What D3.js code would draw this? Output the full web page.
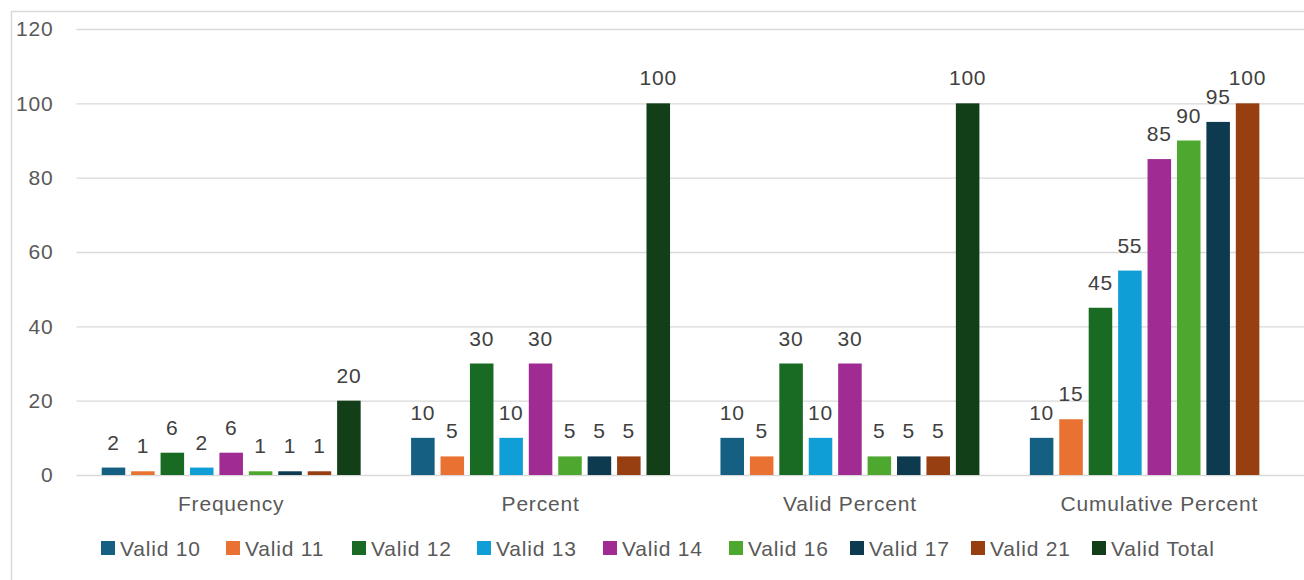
<!DOCTYPE html>
<html>
<head>
<meta charset="utf-8">
<script src="https://cdn.jsdelivr.net/npm/d3@7"></script>
<style>
  html, body { margin: 0; padding: 0; background: #ffffff; }
  svg { display: block; }
  text { font-family: "Liberation Sans", "DejaVu Sans", sans-serif; letter-spacing: 0.8px; }
</style>
</head>
<body>
<svg id="chart" width="1304" height="580"></svg>
<script>
// Measures shown along the horizontal axis
const categories = ["Frequency", "Percent", "Valid Percent", "Cumulative Percent"];

// One series per value row
const seriesNames = ["Valid 10", "Valid 11", "Valid 12", "Valid 13", "Valid 14", "Valid 16", "Valid 17", "Valid 21", "Valid Total"];

// Values per series, in the order of the categories (null = no value)
const valid10    = [2, 10, 10, 10];
const valid11    = [1, 5, 5, 15];
const valid12    = [6, 30, 30, 45];
const valid13    = [2, 10, 10, 55];
const valid14    = [6, 30, 30, 85];
const valid16    = [1, 5, 5, 90];
const valid17    = [1, 5, 5, 95];
const valid21    = [1, 5, 5, 100];
const validTotal = [20, 100, 100, null];

const seriesValues = [valid10, valid11, valid12, valid13, valid14, valid16, valid17, valid21, validTotal];

const seriesColors = ["#156082", "#e97132", "#196b24", "#0f9ed5", "#a02b93", "#4ea72e", "#0e3a50", "#983f12", "#123f18"];

const yTicks = [0, 20, 40, 60, 80, 100, 120];

const svg = d3.select("#chart");

// chart frame
svg.append("rect")
  .attr("x", 11.5).attr("y", 11.5)
  .attr("width", 1400).attr("height", 700)
  .attr("fill", "none").attr("stroke", "#d9d9d9").attr("stroke-width", 1.5);

const plotLeft = 76.5, plotRight = 1314, plotTop = 29, plotBottom = 475;

const x0 = d3.scaleBand().domain(categories).range([plotLeft, plotRight]).paddingInner(0).paddingOuter(0);
const groupW = x0.bandwidth();
const x1 = d3.scaleBand().domain(seriesNames)
  .range([groupW * 0.0815, groupW * 0.9185]).paddingInner(0.2).paddingOuter(0);
const y = d3.scaleLinear().domain([0, 120]).range([plotBottom, plotTop]);

// gridlines
const yAxis = d3.axisLeft(y).tickValues(yTicks).tickSize(-(plotRight - plotLeft)).tickPadding(23);
const gy = svg.append("g").attr("transform", `translate(${plotLeft},0)`).call(yAxis);
gy.select(".domain").remove();
gy.selectAll(".tick line").attr("stroke", "#d9d9d9").attr("stroke-width", 1.3);
gy.selectAll(".tick text")
  .attr("fill", "#595959").attr("font-size", "21px");

// category labels
const gx = svg.append("g").attr("transform", `translate(0,${plotBottom})`)
  .call(d3.axisBottom(x0).tickSize(0).tickPadding(21));
gx.select(".domain").remove();
gx.selectAll(".tick text").attr("fill", "#595959").attr("font-size", "21px");

// bars
const flat = [];
categories.forEach((c, ci) => {
  seriesNames.forEach((s, si) => {
    const v = seriesValues[si][ci];
    if (v !== null && v !== undefined) flat.push({ cat: c, series: s, value: v, color: seriesColors[si] });
  });
});

const bars = svg.append("g");
bars.selectAll("rect").data(flat).join("rect")
  .attr("x", d => x0(d.cat) + x1(d.series))
  .attr("y", d => y(d.value))
  .attr("width", x1.bandwidth())
  .attr("height", d => y(0) - y(d.value))
  .attr("fill", d => d.color);

// data labels
bars.selectAll("text").data(flat).join("text")
  .attr("x", d => x0(d.cat) + x1(d.series) + x1.bandwidth() / 2)
  .attr("y", d => y(d.value) - 18)
  .attr("text-anchor", "middle")
  .attr("fill", "#404040")
  .attr("font-size", "21px")
  .text(d => d.value);

// legend
const legendX = [101, 226, 352, 477, 603, 729, 850, 971, 1092];
const legend = svg.append("g");
const items = legend.selectAll("g").data(seriesNames).join("g")
  .attr("transform", (d, i) => `translate(${legendX[i]},541)`);
items.append("rect").attr("width", 14).attr("height", 14)
  .attr("fill", (d, i) => seriesColors[i]);
items.append("text").attr("x", 19).attr("y", 14.5)
  .attr("fill", "#595959").attr("font-size", "21px")
  .text(d => d);
</script>
</body>
</html>
